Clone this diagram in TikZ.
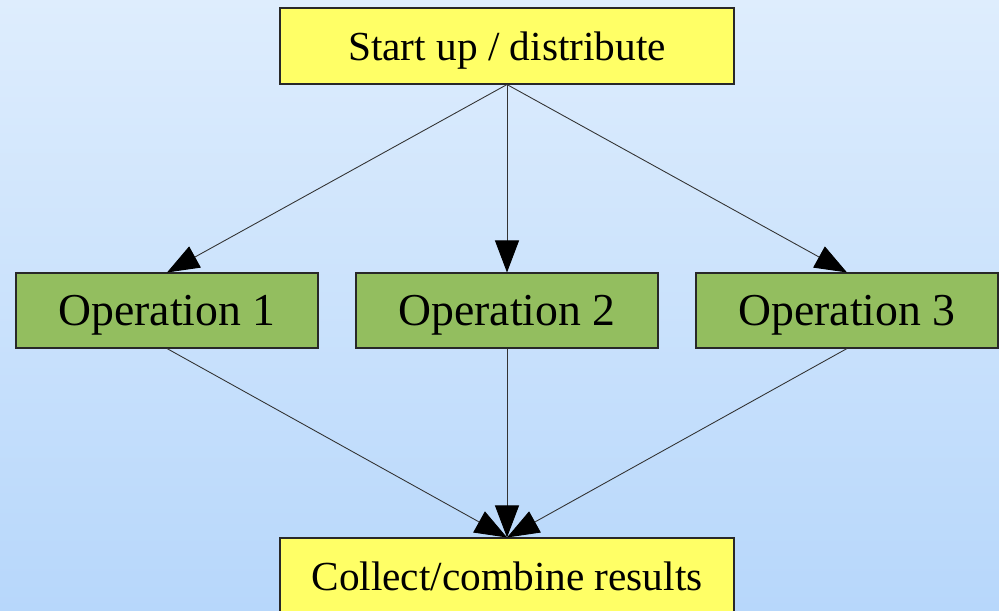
\documentclass[tikz,border=0pt]{standalone}
\usepackage{fontspec}
\setmainfont{Liberation Serif}
\usepackage{xcolor}
\usepackage{tikz}
\usetikzlibrary{arrows.meta,positioning}

\definecolor{bgtop}{RGB}{222,237,253}
\definecolor{bgbottom}{RGB}{183,215,251}
\definecolor{boxyellow}{RGB}{255,255,102}
\definecolor{boxgreen}{RGB}{147,190,95}
\definecolor{boxline}{RGB}{40,40,40}

\tikzset{
  endbox/.style={draw=boxline, fill=boxyellow, line width=0.6pt,
    minimum width=9.08cm, minimum height=1.52cm, inner sep=0pt,
    font=\fontsize{23.5}{28}\selectfont},
  opbox/.style={draw=boxline, fill=boxgreen, line width=0.6pt,
    minimum width=6.04cm, minimum height=1.50cm, inner sep=0pt,
    text depth=0pt, font=\fontsize{26}{31}\selectfont},
  flow/.style={draw=black!80, line width=0.5pt,
    -{Triangle[length=0.64cm, width=0.48cm, color=black]}}
}

\begin{document}
\begin{tikzpicture}
  \useasboundingbox (0,0) rectangle (19.98,12.2);
  \clip (0,0) rectangle (19.98,12.2);
  \shade[top color=bgtop, bottom color=bgbottom] (0,0) rectangle (19.98,12.2);

  \node[endbox, text depth=0pt] (start) at (10.14,11.28) {Start up / distribute};
  \node[opbox] (op1) at (3.34,5.99) {Operation 1};
  \node[opbox] (op2) at (10.14,5.99) {Operation 2};
  \node[opbox] (op3) at (16.94,5.99) {Operation 3};
  \node[endbox] (collect) at (10.14,0.68) {Collect/combine results};

  \foreach \i in {1,2,3} {
    \draw[flow] (start.south) -- (op\i.north);
    \draw[flow] (op\i.south) -- (collect.north);
  }
\end{tikzpicture}
\end{document}
